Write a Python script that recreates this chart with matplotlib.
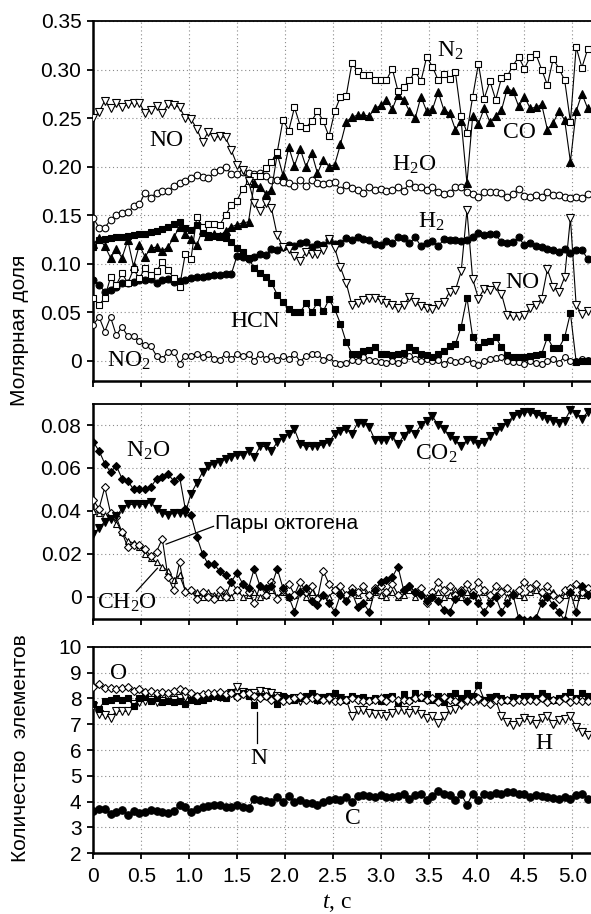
import numpy as np
import matplotlib
matplotlib.use('Agg')
import matplotlib.pyplot as plt

plt.rcParams['font.family'] = ['Liberation Sans', 'DejaVu Sans']
plt.rcParams['mathtext.fontset'] = 'custom'
plt.rcParams['mathtext.rm'] = 'Liberation Serif'
plt.rcParams['mathtext.it'] = 'Liberation Serif:italic'
plt.rcParams['mathtext.bf'] = 'Liberation Serif:bold'

DT = 0.06  # time step, s

# ---------------- top panel: mole fractions ----------------
no = [0.250, 0.256, 0.268, 0.260, 0.266, 0.261, 0.264, 0.266, 0.266, 0.255,
      0.258, 0.262, 0.255, 0.264, 0.263, 0.261, 0.250, 0.249, 0.239, 0.225,
      0.236, 0.230, 0.231, 0.230, 0.217, 0.202, 0.196, 0.185, 0.162, 0.154,
      0.162, 0.157, 0.129, 0.117, 0.115, 0.108, 0.103, 0.112, 0.110, 0.110,
      0.114, 0.125, 0.116, 0.096, 0.080, 0.057, 0.059, 0.062, 0.065, 0.065,
      0.062, 0.059, 0.057, 0.054, 0.057, 0.066, 0.060, 0.056, 0.054, 0.053,
      0.057, 0.060, 0.071, 0.073, 0.092, 0.155, 0.084, 0.064, 0.074, 0.073,
      0.077, 0.069, 0.047, 0.046, 0.046, 0.047, 0.054, 0.057, 0.064, 0.094,
      0.076, 0.071, 0.086, 0.147, 0.057, 0.048, 0.051]
n2 = [0.065, 0.057, 0.065, 0.086, 0.078, 0.090, 0.080, 0.094, 0.085, 0.095,
      0.088, 0.092, 0.102, 0.093, 0.085, 0.076, 0.110, 0.105, 0.148, 0.138,
      0.141, 0.141, 0.140, 0.150, 0.160, 0.165, 0.177, 0.185, 0.190, 0.190,
      0.198, 0.205, 0.215, 0.248, 0.237, 0.261, 0.242, 0.240, 0.247, 0.257,
      0.247, 0.231, 0.257, 0.272, 0.273, 0.307, 0.298, 0.294, 0.294, 0.289,
      0.289, 0.289, 0.301, 0.278, 0.282, 0.289, 0.298, 0.288, 0.313, 0.303,
      0.289, 0.295, 0.290, 0.297, 0.252, 0.235, 0.272, 0.306, 0.270, 0.288,
      0.269, 0.291, 0.293, 0.304, 0.313, 0.301, 0.313, 0.316, 0.300, 0.284,
      0.311, 0.301, 0.289, 0.246, 0.323, 0.302, 0.321]
co = [0.120, 0.126, 0.118, 0.106, 0.115, 0.106, 0.124, 0.097, 0.119, 0.107,
      0.116, 0.117, 0.113, 0.117, 0.127, 0.138, 0.131, 0.125, 0.119, 0.135,
      0.128, 0.130, 0.128, 0.134, 0.138, 0.140, 0.142, 0.143, 0.183, 0.179,
      0.172, 0.176, 0.213, 0.191, 0.220, 0.201, 0.218, 0.200, 0.214, 0.193,
      0.207, 0.200, 0.202, 0.223, 0.246, 0.251, 0.253, 0.253, 0.252, 0.260,
      0.263, 0.269, 0.259, 0.274, 0.269, 0.257, 0.250, 0.272, 0.257, 0.259,
      0.277, 0.258, 0.255, 0.238, 0.247, 0.183, 0.252, 0.244, 0.260, 0.246,
      0.252, 0.258, 0.280, 0.278, 0.262, 0.272, 0.260, 0.261, 0.264, 0.238,
      0.245, 0.257, 0.248, 0.205, 0.257, 0.275, 0.260]
h2o = [0.147, 0.137, 0.137, 0.145, 0.150, 0.152, 0.153, 0.159, 0.161, 0.173,
       0.168, 0.173, 0.175, 0.175, 0.180, 0.183, 0.185, 0.188, 0.191, 0.189,
       0.188, 0.194, 0.196, 0.200, 0.192, 0.192, 0.194, 0.193, 0.192, 0.193,
       0.190, 0.186, 0.186, 0.184, 0.183, 0.180, 0.186, 0.180, 0.186, 0.183,
       0.182, 0.183, 0.184, 0.176, 0.181, 0.178, 0.176, 0.173, 0.179, 0.176,
       0.177, 0.175, 0.176, 0.179, 0.175, 0.183, 0.179, 0.179, 0.176, 0.179,
       0.174, 0.172, 0.173, 0.179, 0.179, 0.174, 0.172, 0.169, 0.174, 0.174,
       0.174, 0.173, 0.169, 0.172, 0.177, 0.170, 0.169, 0.171, 0.169, 0.174,
       0.171, 0.171, 0.169, 0.168, 0.169, 0.168, 0.172]
h2 = [0.083, 0.078, 0.071, 0.073, 0.076, 0.080, 0.080, 0.081, 0.083, 0.083,
      0.084, 0.080, 0.083, 0.084, 0.081, 0.082, 0.083, 0.085, 0.086, 0.086,
      0.087, 0.088, 0.088, 0.089, 0.089, 0.108, 0.107, 0.105, 0.107, 0.110,
      0.109, 0.115, 0.114, 0.117, 0.119, 0.118, 0.121, 0.122, 0.117, 0.120,
      0.119, 0.124, 0.120, 0.121, 0.126, 0.124, 0.127, 0.125, 0.124, 0.120,
      0.119, 0.123, 0.121, 0.127, 0.126, 0.121, 0.127, 0.118, 0.121, 0.123,
      0.118, 0.125, 0.124, 0.124, 0.123, 0.124, 0.127, 0.132, 0.129, 0.130,
      0.130, 0.122, 0.121, 0.122, 0.127, 0.119, 0.121, 0.118, 0.117, 0.115,
      0.114, 0.112, 0.115, 0.111, 0.114, 0.114, 0.105]
hcn = [0.117, 0.124, 0.125, 0.126, 0.127, 0.127, 0.128, 0.129, 0.131, 0.131,
       0.133, 0.134, 0.136, 0.138, 0.141, 0.143, 0.137, 0.135, 0.140, 0.132,
       0.129, 0.128, 0.128, 0.126, 0.122, 0.116, 0.112, 0.106, 0.095, 0.090,
       0.086, 0.080, 0.068, 0.060, 0.053, 0.050, 0.050, 0.059, 0.050, 0.060,
       0.051, 0.063, 0.053, 0.038, 0.019, 0.007, 0.007, 0.010, 0.011, 0.014,
       0.007, 0.007, 0.006, 0.007, 0.008, 0.014, 0.011, 0.007, 0.006, 0.004,
       0.007, 0.010, 0.015, 0.017, 0.035, 0.065, 0.024, 0.014, 0.019, 0.020,
       0.024, 0.014, 0.006, 0.004, 0.004, 0.004, 0.005, 0.006, 0.007, 0.024,
       0.013, 0.013, 0.024, 0.049, -0.001, 0.000, 0.000]
no2 = [0.037, 0.045, 0.030, 0.045, 0.026, 0.035, 0.025, 0.025, 0.020, 0.016,
       0.015, 0.005, 0.002, 0.009, 0.009, -0.003, 0.005, 0.005, 0.007, 0.004,
       0.007, 0.002, 0.001, 0.007, 0.002, 0.007, 0.005, 0.007, 0.000, 0.007,
       0.002, 0.005, 0.001, 0.005, 0.002, 0.007, -0.001, 0.005, 0.007, 0.007,
       0.001, 0.004, -0.002, -0.003, -0.002, 0.001, 0.000, 0.004, 0.001, 0.000,
       -0.001, -0.002, 0.000, -0.002, 0.001, 0.005, 0.002, 0.000, 0.002, 0.000,
       0.001, -0.003, 0.001, -0.001, 0.000, 0.002, -0.002, -0.004, 0.000, 0.002,
       0.003, 0.004, 0.000, -0.001, -0.001, -0.003, 0.000, -0.002, -0.003, 0.000,
       0.002, -0.002, 0.004, 0.000, 0.000, 0.002, 0.001]

# ---------------- middle panel: mole fractions ----------------
co2 = [0.029, 0.032, 0.035, 0.036, 0.0375, 0.041, 0.043, 0.043, 0.043, 0.043,
       0.044, 0.041, 0.039, 0.038, 0.039, 0.039, 0.039, 0.048, 0.053, 0.058,
       0.061, 0.062, 0.063, 0.064, 0.065, 0.066, 0.066, 0.068, 0.065, 0.070,
       0.070, 0.068, 0.072, 0.074, 0.076, 0.078, 0.071, 0.070, 0.070, 0.070,
       0.071, 0.072, 0.076, 0.077, 0.078, 0.076, 0.081, 0.081, 0.079, 0.073,
       0.073, 0.073, 0.075, 0.071, 0.075, 0.078, 0.076, 0.080, 0.082, 0.084,
       0.080, 0.078, 0.075, 0.073, 0.070, 0.073, 0.073, 0.071, 0.072, 0.075,
       0.077, 0.079, 0.081, 0.084, 0.085, 0.086, 0.086, 0.085, 0.084, 0.083,
       0.082, 0.081, 0.082, 0.087, 0.085, 0.083, 0.086]
n2o = [0.072, 0.068, 0.062, 0.058, 0.061, 0.055, 0.054, 0.050, 0.050, 0.050,
       0.051, 0.055, 0.056, 0.057, 0.054, 0.056, 0.041, 0.038, 0.028, 0.020,
       0.015, 0.015, 0.012, 0.010, 0.007, 0.011, 0.006, 0.004, 0.013, 0.005,
       0.004, 0.005, 0.013, 0.004, 0.000, -0.007, 0.002, 0.004, -0.002, -0.004,
       0.001, -0.003, -0.007, 0.001, -0.002, 0.002, -0.005, -0.003, -0.007, 0.003,
       0.007, 0.008, 0.009, 0.014, 0.003, 0.005, 0.002, 0.001, -0.002, 0.000,
       -0.002, -0.006, -0.007, -0.001, 0.002, -0.002, 0.001, -0.003, -0.007, -0.003,
       0.000, -0.007, -0.003, 0.001, -0.010, -0.011, -0.011, -0.010, -0.003, 0.000,
       -0.004, -0.007, -0.011, 0.002, -0.007, 0.005, 0.001]
hmx = [0.045, 0.041, 0.051, 0.039, 0.037, 0.030, 0.023, 0.024, 0.024, 0.022,
       0.019, 0.021, 0.027, 0.009, 0.003, 0.016, 0.002, 0.003, -0.001, 0.002,
       0.000, -0.001, 0.003, 0.000, 0.007, 0.003, 0.006, 0.002, -0.003, 0.005,
       0.001, 0.007, -0.001, 0.003, 0.006, 0.001, 0.007, 0.002, 0.005, -0.001,
       0.012, 0.006, 0.003, 0.005, 0.001, 0.004, 0.002, 0.005, 0.001, 0.004,
       0.005, 0.002, 0.006, 0.001, 0.003, 0.005, 0.002, 0.004, -0.003, 0.002,
       0.007, 0.003, 0.005, 0.001, 0.003, 0.006, 0.002, 0.007, 0.003, 0.001,
       0.005, 0.002, 0.004, 0.001, 0.003, 0.007, 0.004, 0.006, 0.002, 0.005,
       0.001, -0.001, 0.003, 0.004, 0.006, 0.002, 0.004]
ch2o = [0.040, 0.039, 0.038, 0.038, 0.034, 0.030, 0.026, 0.025, 0.023, 0.020,
        0.018, 0.016, 0.014, 0.012, 0.008, 0.010, 0.003, 0.003, 0.002, 0.000,
        0.002, 0.001, 0.000, 0.002, 0.000, 0.003, 0.000, 0.001, 0.002, 0.000,
        0.001, 0.003, 0.000, 0.002, 0.000, 0.001, 0.003, 0.000, 0.002, 0.000,
        0.001, 0.000, 0.003, 0.002, 0.000, 0.002, 0.001, 0.003, 0.000, 0.002,
        0.001, 0.000, 0.002, 0.000, 0.001, 0.003, 0.000, 0.002, 0.000, 0.001,
        0.002, 0.000, 0.001, 0.003, 0.000, 0.002, 0.001, 0.000, 0.002, 0.000,
        0.001, 0.003, 0.000, 0.002, 0.001, 0.000, 0.002, 0.003, 0.000, 0.001,
        0.002, 0.000, 0.001, 0.002, 0.000, 0.001, 0.002]

# ---------------- bottom panel: number of elements ----------------
el_o = [8.45, 8.55, 8.40, 8.40, 8.38, 8.40, 8.45, 8.30, 8.38, 8.25,
        8.30, 8.20, 8.25, 8.20, 8.30, 8.35, 8.30, 8.20, 8.10, 8.15,
        8.20, 8.20, 8.25, 8.15, 8.20, 8.05, 8.15, 8.20, 8.10, 8.00,
        8.10, 7.95, 8.05, 7.90, 7.95, 8.00, 8.10, 7.95, 8.00, 8.05,
        7.95, 8.00, 7.90, 7.90, 7.95, 8.00, 7.95, 7.90, 7.90, 7.95,
        8.00, 7.90, 8.00, 7.95, 7.95, 7.90, 8.00, 8.05, 7.95, 8.00,
        7.85, 8.05, 7.95, 7.90, 7.80, 7.95, 7.90, 8.00, 7.85, 7.80,
        7.95, 7.90, 7.95, 7.85, 7.95, 7.90, 7.95, 7.90, 8.00, 7.85,
        7.95, 7.90, 8.00, 7.85, 7.95, 7.90, 7.90]
el_n = [7.80, 7.60, 7.90, 7.95, 8.00, 7.95, 8.00, 7.70, 8.00, 8.05,
        7.90, 8.00, 7.85, 7.90, 7.85, 7.90, 7.80, 7.95, 7.90, 7.95,
        8.00, 8.10, 8.05, 8.00, 8.20, 8.10, 8.20, 8.10, 7.75, 8.10,
        8.10, 8.00, 7.80, 8.10, 8.00, 7.95, 8.00, 8.10, 8.20, 7.95,
        8.05, 8.10, 8.20, 8.00, 7.95, 8.10, 8.00, 8.05, 7.95, 8.00,
        7.90, 8.05, 8.10, 7.85, 8.15, 7.95, 8.20, 8.00, 8.15, 7.95,
        8.10, 7.85, 8.10, 8.20, 8.00, 8.20, 8.10, 8.50, 7.95, 8.05,
        8.10, 8.00, 7.95, 8.05, 8.00, 8.10, 8.10, 8.00, 8.20, 8.10,
        7.95, 8.00, 8.10, 8.25, 8.00, 8.20, 8.10]
el_h = [7.70, 7.40, 7.35, 7.25, 7.50, 7.50, 7.50, 7.80, 7.85, 7.90,
        7.95, 7.85, 7.90, 8.00, 7.95, 8.00, 8.05, 8.00, 8.05, 8.00,
        8.05, 8.10, 8.05, 8.10, 8.20, 8.45, 8.25, 8.20, 8.20, 8.30,
        8.25, 8.20, 8.10, 8.00, 7.95, 8.00, 7.90, 8.00, 8.05, 7.95,
        8.00, 7.95, 8.00, 8.00, 7.95, 7.30, 7.55, 7.55, 7.45, 7.40,
        7.40, 7.30, 7.45, 7.55, 7.55, 7.45, 7.55, 7.40, 7.25, 7.30,
        7.05, 7.30, 7.55, 7.60, 7.75, 7.90, 8.00, 7.95, 7.90, 8.00,
        7.95, 7.30, 7.10, 6.95, 7.10, 7.25, 7.15, 7.00, 7.25, 7.30,
        7.00, 7.15, 7.20, 7.30, 6.90, 6.70, 6.60]
el_c = [3.65, 3.70, 3.72, 3.53, 3.60, 3.68, 3.47, 3.65, 3.55, 3.60,
        3.66, 3.65, 3.60, 3.57, 3.65, 3.86, 3.78, 3.60, 3.72, 3.80,
        3.82, 3.86, 3.86, 3.80, 3.78, 3.86, 3.80, 3.74, 4.12, 4.05,
        4.03, 4.00, 4.18, 4.00, 4.20, 4.00, 4.05, 3.96, 3.94, 3.87,
        4.00, 4.06, 4.12, 4.06, 4.19, 4.00, 4.20, 4.25, 4.20, 4.19,
        4.25, 4.19, 4.19, 4.20, 4.30, 4.12, 4.25, 4.28, 4.06, 4.20,
        4.41, 4.30, 4.25, 4.06, 4.30, 3.87, 4.30, 4.06, 4.28, 4.25,
        4.34, 4.28, 4.37, 4.37, 4.30, 4.28, 4.19, 4.25, 4.20, 4.19,
        4.16, 4.12, 4.19, 4.09, 4.25, 4.30, 4.12]

x_ticks = [0, 0.5, 1.0, 1.5, 2.0, 2.5, 3.0, 3.5, 4.0, 4.5, 5.0]
x_ticklabels = ['0', '0.5', '1.0', '1.5', '2.0', '2.5', '3.0', '3.5', '4.0', '4.5', '5.0']
y1_ticks = [0, 0.05, 0.10, 0.15, 0.20, 0.25, 0.30, 0.35]
y1_labels = ['0', '0.05', '0.10', '0.15', '0.20', '0.25', '0.30', '0.35']
y2_ticks = [0, 0.02, 0.04, 0.06, 0.08]
y2_labels = ['0', '0.02', '0.04', '0.06', '0.08']
y3_ticks = [2, 3, 4, 5, 6, 7, 8, 9, 10]
y3_labels = ['2', '3', '4', '5', '6', '7', '8', '9', '10']

W, H = 591, 914
fig = plt.figure(figsize=(W / 100, H / 100), dpi=100)


def rect(l, t, r, b):
    return [l / W, 1 - b / H, (r - l) / W, (b - t) / H]


ax1 = fig.add_axes(rect(93.3, 21, 591, 381))
ax2 = fig.add_axes(rect(93.3, 404, 591, 619))
ax3 = fig.add_axes(rect(93.3, 646.7, 591, 853.3))


def style(ax, ylim, yt, yl, xlabels):
    ax.set_xlim(0, 5.195)
    ax.set_ylim(*ylim)
    ax.set_xticks(x_ticks)
    ax.set_xticklabels(x_ticklabels)
    ax.set_yticks(yt)
    ax.set_yticklabels(yl)
    ax.grid(True, linestyle=(0, (1, 2.5)), color='#8a8a8a', linewidth=0.8)
    ax.set_axisbelow(True)
    ax.tick_params(direction='out', length=4.5, width=1.3, labelsize=15,
                   colors='black')
    ax.tick_params(axis='x', pad=5.5, labelbottom=xlabels)
    ax.tick_params(axis='y', pad=4)
    for s in ['left', 'bottom']:
        ax.spines[s].set_linewidth(1.8)
    ax.spines['top'].set_linewidth(1.3)
    ax.spines['right'].set_visible(False)


style(ax1, (-0.021, 0.35), y1_ticks, y1_labels, False)
style(ax2, (-0.0104, 0.0898), y2_ticks, y2_labels, False)
style(ax3, (2, 10), y3_ticks, y3_labels, True)


def series(ax, y, marker, filled, ms=4.8, z=3):
    t = np.arange(len(y)) * DT
    ax.plot(t, y, color='black', lw=0.8, marker=marker, ms=ms,
            mec='black', mew=0.8, mfc='black' if filled else 'white', zorder=z)


# top panel
series(ax1, no2, 'o', False, ms=4.2)
series(ax1, hcn, 's', True, ms=4.6)
series(ax1, h2, 'o', True, ms=5.0)
series(ax1, h2o, 'o', False, ms=4.8)
series(ax1, co, '^', True, ms=5.4)
series(ax1, n2, 's', False, ms=4.6)
series(ax1, no, 'v', False, ms=5.4)

# middle panel
series(ax2, ch2o, '^', False, ms=5.0)
series(ax2, hmx, 'D', False, ms=4.2)
series(ax2, n2o, 'D', True, ms=4.2)
series(ax2, co2, 'v', True, ms=5.2)

# bottom panel
series(ax3, el_c, 'o', True, ms=5.4)
series(ax3, el_h, 'v', False, ms=5.2)
series(ax3, el_n, 's', True, ms=4.8)
series(ax3, el_o, 'D', False, ms=4.4)

serif = dict(family=['Liberation Serif', 'DejaVu Serif'], fontsize=17,
             va='baseline', ha='left', zorder=6)

# top annotations
ax1.text(0.59, 0.221, 'NO', **serif)
ax1.text(3.585, 0.313, 'N$_2$', **serif)
ax1.text(4.28, 0.229, 'CO', **serif)
ax1.text(3.115, 0.1957, 'H$_2$O', **serif)
ax1.text(3.39, 0.1373, 'H$_2$', **serif)
ax1.text(4.30, 0.075, 'NO', **serif)
ax1.text(1.427, 0.0349, 'HCN', **serif)
ax1.text(0.14, -0.0064, 'NO$_2$', **serif)

# middle annotations
ax2.text(0.341, 0.0653, 'N$_2$O', **serif)
ax2.text(3.358, 0.0637, 'CO$_2$', **serif)
ax2.text(0.035, -0.0054, 'CH$_2$O', **serif)
ax2.text(1.27, 0.0342, 'Пары октогена', fontsize=15, va='center', ha='left',
         family=['Liberation Sans', 'DejaVu Sans'], zorder=6)
ax2.plot([1.255, 0.76], [0.0328, 0.0245], color='black', lw=0.9, zorder=6)
ax2.plot([0.45, 0.67], [0.0025, 0.0133], color='black', lw=0.9, zorder=6)

# bottom annotations
ax3.text(0.174, 8.74, 'O', **serif)
ax3.text(1.643, 5.46, 'N', **serif)
ax3.plot([1.71, 1.71], [7.48, 6.26], color='black', lw=0.9, zorder=6)
ax3.text(4.61, 6.03, 'H', **serif)
ax3.text(2.627, 3.14, 'C', **serif)

# axis labels
fig.text(20 / W, 1 - 330 / H, 'Молярная доля', rotation=90, ha='center',
         va='center', fontsize=15)
fig.text(21 / W, 1 - 748 / H, 'Количество  элементов', rotation=90,
         ha='center', va='center', fontsize=15)
fig.text(337 / W, 1 - 908 / H, '$t$, с', ha='center', va='baseline',
         fontsize=17, family=['Liberation Serif', 'DejaVu Serif'])

fig.savefig('out.png', dpi=100)
